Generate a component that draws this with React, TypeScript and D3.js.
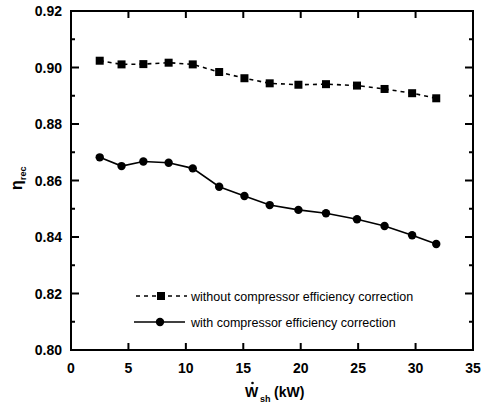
import React from "react";
import * as d3 from "d3";

const xValues = [2.5, 4.4, 6.3, 8.5, 10.6, 12.9, 15.1, 17.3, 19.8, 22.2, 24.9, 27.3, 29.7, 31.8];
const withoutCorrection = [0.9024, 0.9011, 0.9012, 0.9017, 0.9011, 0.8984, 0.8962, 0.8944, 0.8939, 0.8941, 0.8936, 0.8924, 0.8909, 0.8891];
const withCorrection = [0.8682, 0.8651, 0.8667, 0.8663, 0.8643, 0.8578, 0.8545, 0.8513, 0.8496, 0.8484, 0.8463, 0.8439, 0.8406, 0.8375];
const xTicks = [0, 5, 10, 15, 20, 25, 30, 35];
const yTicks = [0.8, 0.82, 0.84, 0.86, 0.88, 0.9, 0.92];
const yMinorTicks = [0.81, 0.83, 0.85, 0.87, 0.89, 0.91];
const legendLabels = ["without compressor efficiency correction", "with compressor efficiency correction"];

const W = 489, H = 402;
const L = 71, R = 473, T = 11, B = 350;
const font = "'Liberation Sans', Arial, Helvetica, sans-serif";

export default function App() {
  const x = d3.scaleLinear().domain([0, 35]).range([L, R]);
  const y = d3.scaleLinear().domain([0.8, 0.92]).range([B, T]);
  const line = d3.line<number>().x((_, i) => x(xValues[i])).y((d) => y(d));
  const sq = 8;
  return (
    <svg width={W} height={H} style={{ position: "absolute", left: 0, top: 0, background: "#fff" }} fontFamily={font}>
      <rect x={0} y={0} width={W} height={H} fill="#fff" />
      {/* ticks */}
      {xTicks.slice(1, -1).map((t) => (
        <g key={"xt" + t}>
          <line x1={x(t)} x2={x(t)} y1={B} y2={B - 7} stroke="#000" strokeWidth={2} />
          <line x1={x(t)} x2={x(t)} y1={T} y2={T + 7} stroke="#000" strokeWidth={2} />
        </g>
      ))}
      {yTicks.slice(1, -1).map((t) => (
        <g key={"yt" + t}>
          <line x1={L} x2={L + 8} y1={y(t)} y2={y(t)} stroke="#000" strokeWidth={2} />
          <line x1={R} x2={R - 8} y1={y(t)} y2={y(t)} stroke="#000" strokeWidth={2} />
        </g>
      ))}
      {yMinorTicks.map((t) => (
        <g key={"ym" + t}>
          <line x1={L} x2={L + 4} y1={y(t)} y2={y(t)} stroke="#000" strokeWidth={2} />
          <line x1={R} x2={R - 4} y1={y(t)} y2={y(t)} stroke="#000" strokeWidth={2} />
        </g>
      ))}
      <rect x={L} y={T} width={R - L} height={B - T} fill="none" stroke="#000" strokeWidth={2} />
      {/* tick labels */}
      {xTicks.map((t) => (
        <text key={"xl" + t} x={x(t)} y={373} textAnchor="middle" fontSize={14} fontWeight="bold">{t}</text>
      ))}
      {yTicks.map((t) => (
        <text key={"yl" + t} x={62} y={y(t) + 5} textAnchor="end" fontSize={14} fontWeight="bold">{t.toFixed(2)}</text>
      ))}
      {/* axis titles */}
      <g fontSize={14} fontWeight="bold">
        <text x={245} y={397}>W</text>
        <circle cx={252.5} cy={383} r={1.3} fill="#000" />
        <text x={260} y={401.5} fontSize={9}>sh</text>
        <text x={274} y={397}>(kW)</text>
      </g>
      <g transform="translate(22,190) rotate(-90)" fontWeight="bold">
        <text x={0} y={0} fontSize={16}>η</text>
        <text x={10} y={4} fontSize={9}>rec</text>
      </g>
      {/* series */}
      <path d={line(withoutCorrection) || ""} fill="none" stroke="#000" strokeWidth={1.6} strokeDasharray="4,4" />
      <path d={line(withCorrection) || ""} fill="none" stroke="#000" strokeWidth={1.6} />
      {withoutCorrection.map((v, i) => (
        <rect key={"s" + i} x={x(xValues[i]) - sq / 2} y={y(v) - sq / 2} width={sq} height={sq} fill="#000" />
      ))}
      {withCorrection.map((v, i) => (
        <circle key={"c" + i} cx={x(xValues[i])} cy={y(v)} r={4.2} fill="#000" />
      ))}
      {/* legend */}
      <g fontSize={12.5}>
        <line x1={136} x2={187} y1={296} y2={296} stroke="#000" strokeWidth={1.6} strokeDasharray="4,4" />
        <rect x={161 - sq / 2} y={296 - sq / 2} width={sq} height={sq} fill="#000" />
        <text x={191} y={300.5}>{legendLabels[0]}</text>
        <line x1={134} x2={185} y1={322} y2={322} stroke="#000" strokeWidth={1.6} />
        <circle cx={160} cy={322} r={4.2} fill="#000" />
        <text x={191} y={326.5}>{legendLabels[1]}</text>
      </g>
    </svg>
  );
}
